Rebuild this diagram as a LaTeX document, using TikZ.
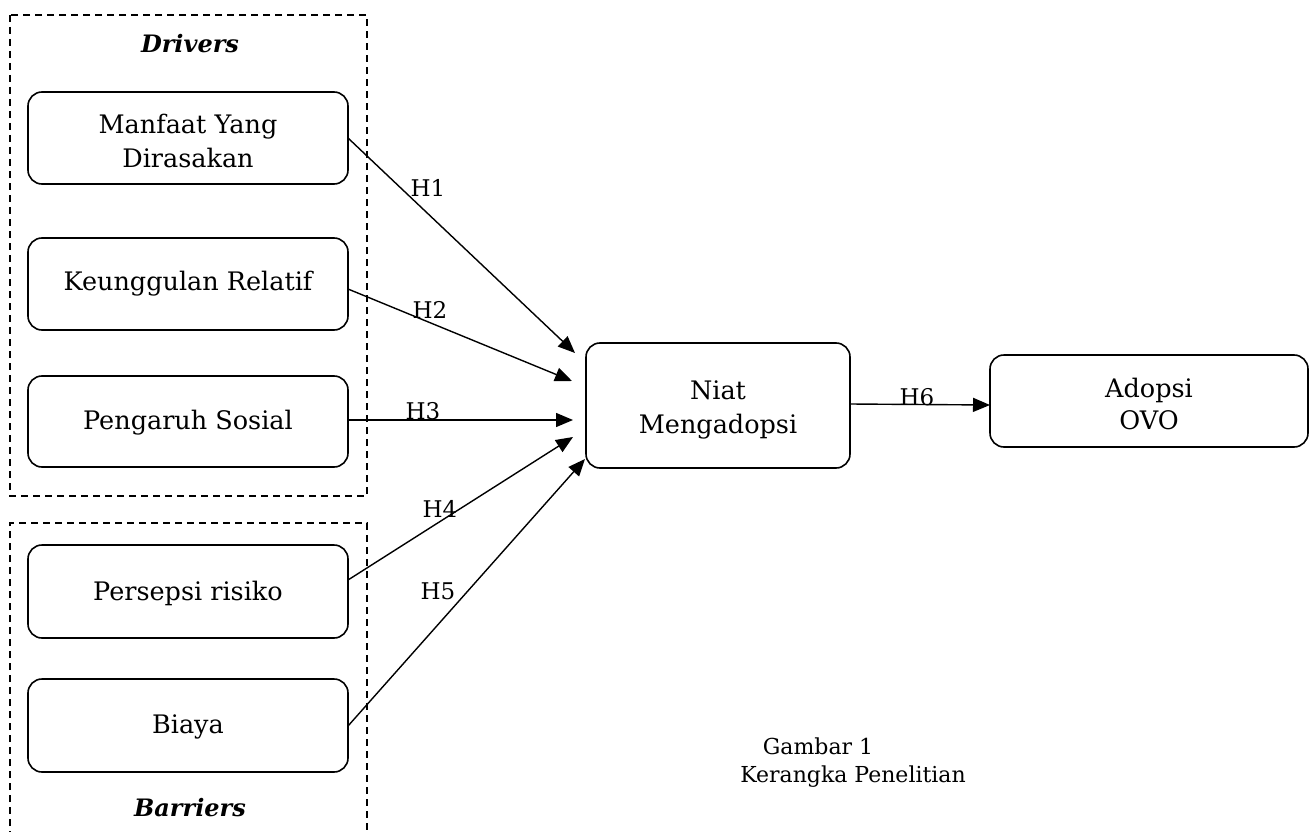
\documentclass[tikz,border=0pt]{standalone}
\usepackage{fontspec}
\setmainfont{DejaVu Serif}
\usetikzlibrary{arrows.meta}
\begin{document}
\begin{tikzpicture}[x=1pt,y=-1pt,
  rbox/.style={draw,line width=1.6pt,rounded corners=14pt},
  txt/.style={align=center,font=\fontsize{25.5}{34}\selectfont,inner sep=0pt},
  grp/.style={draw,line width=1.2pt,dash pattern=on 7pt off 5pt},
  lbl/.style={font=\fontsize{23}{26}\selectfont,inner sep=0pt},
  captxt/.style={font=\fontsize{22}{26}\selectfont,inner sep=0pt},
  ttl/.style={font=\fontsize{24}{28}\selectfont\bfseries\itshape,inner sep=0pt},
  arr/.style={-{Triangle[length=17pt,width=14pt]},line width=1.4pt}]
\useasboundingbox (0,0) rectangle (1309,832);
\begin{scope}
\clip (0,0) rectangle (1309,832);
\draw[grp] (10,15) rectangle (367,496);
\draw[grp] (10,850) -- (10,523) -- (367,523) -- (367,850);
\end{scope}
\node[ttl] (tdrv) at (190,44) {Drivers};
\node[ttl] (tbar) at (190,808) {Barriers};
\draw[rbox] (28,92) rectangle (348,184);
\node[txt] (b1) at (188,141) {Manfaat Yang\\Dirasakan};
\draw[rbox] (28,238) rectangle (348,330);
\node[txt] (b2) at (188,284) {Keunggulan Relatif};
\draw[rbox] (28,376) rectangle (348,467);
\node[txt] (b3) at (188,423) {Pengaruh Sosial};
\draw[rbox] (28,545) rectangle (348,638);
\node[txt] (b4) at (188,593) {Persepsi risiko};
\draw[rbox] (28,679) rectangle (348,772);
\node[txt] (b5) at (188,727) {Biaya};
\draw[rbox] (586,343) rectangle (850,468);
\node[txt] (niat) at (718,410) {Niat\\Mengadopsi};
\draw[rbox] (990,355) rectangle (1308,447);
\node[txt,font=\fontsize{25.5}{32}\selectfont] (ovo) at (1149,404) {Adopsi\\OVO};
\coordinate (s1) at (348,138);
\coordinate (s2) at (348,289);
\coordinate (s3) at (348,420);
\coordinate (s4) at (348,580);
\coordinate (s5) at (348,726);
\coordinate (s6) at (850,404);
\coordinate (e1) at (575,353);
\coordinate (e2) at (572,381);
\coordinate (e3) at (573,420);
\coordinate (e4) at (573,437);
\coordinate (e5) at (585,459);
\coordinate (e6) at (990,405);
\draw[arr] (s1) -- (e1);
\draw[arr] (s2) -- (e2);
\draw[arr] (s3) -- (e3);
\draw[arr] (s4) -- (e4);
\draw[arr] (s5) -- (e5);
\draw[arr] (s6) -- (e6);
\node[lbl] (h1) at (428,188) {H1};
\node[lbl] (h2) at (430,310) {H2};
\node[lbl] (h3) at (423,411) {H3};
\node[lbl] (h4) at (440,509) {H4};
\node[lbl] (h5) at (438,591) {H5};
\node[lbl] (h6) at (917,397) {H6};
\node[captxt] (g1) at (818,746) {Gambar 1};
\node[captxt] (g2) at (853,777) {Kerangka Penelitian};
\end{tikzpicture}
\end{document}
